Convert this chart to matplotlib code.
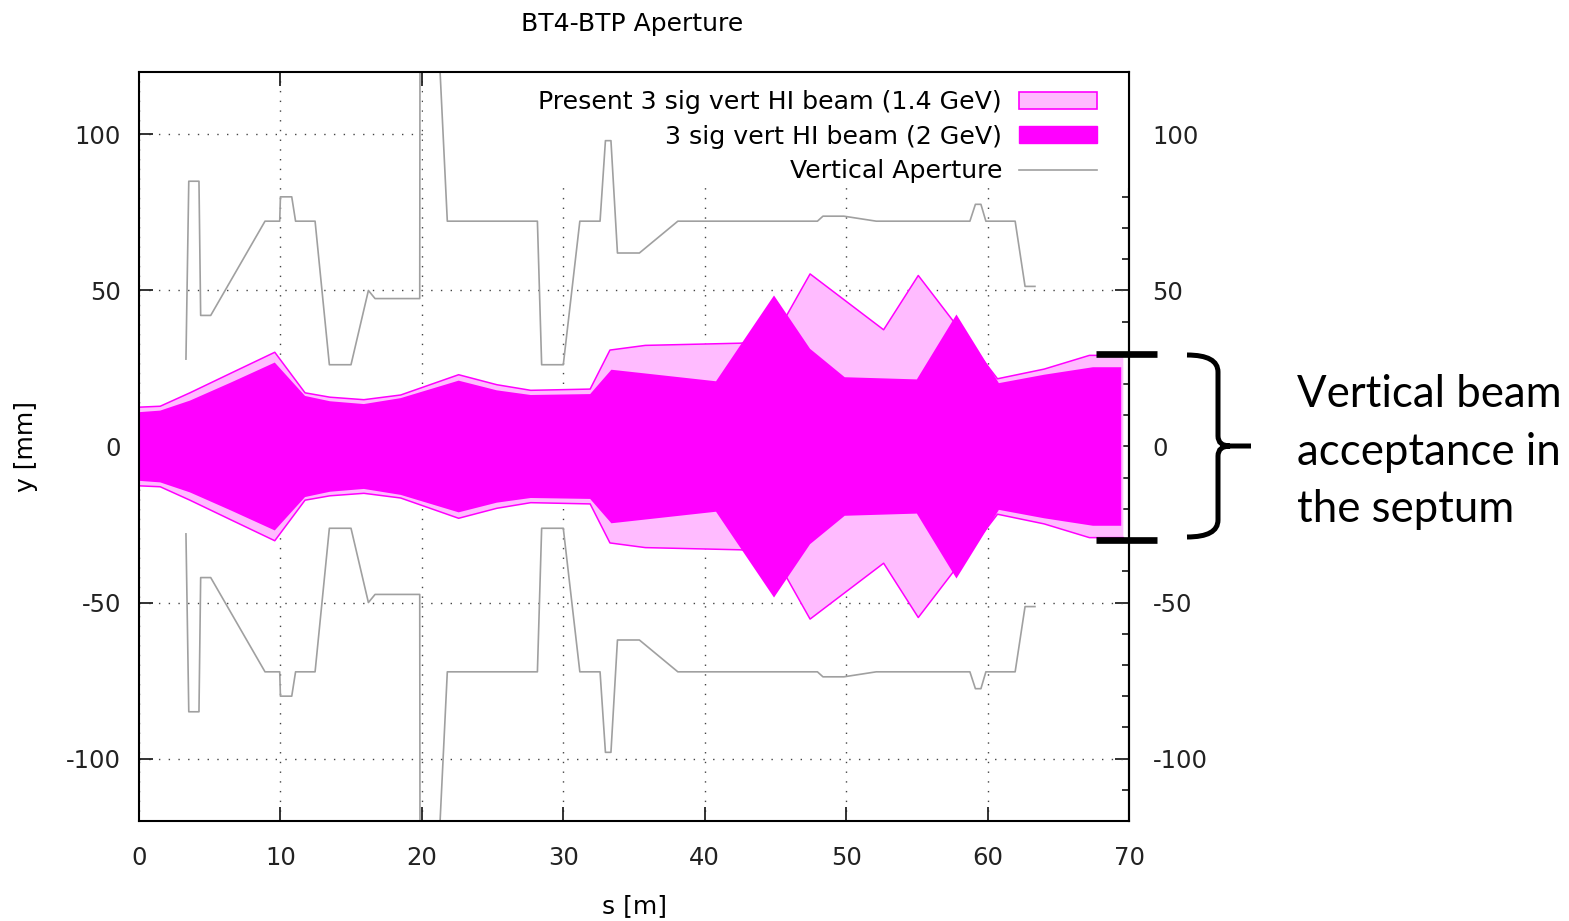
import matplotlib
matplotlib.use("Agg")
import matplotlib.pyplot as plt
from matplotlib.patches import Patch, Rectangle, PathPatch
from matplotlib.lines import Line2D
from matplotlib.path import Path
from matplotlib.transforms import Affine2D
from matplotlib.ticker import MultipleLocator

plt.rcParams['font.family'] = ['DejaVu Sans']
plt.rcParams['axes.unicode_minus'] = False

# ---- data ----
# vertical aperture (upper half; lower half is mirrored)
ap_s = [3.32, 3.52, 4.24, 4.36, 5.07, 8.91, 9.95, 10.0, 10.8, 11.07, 12.45, 13.46,
        14.99, 16.22, 16.69, 19.85, 19.9, 21.8, 28.17, 28.47, 30.0, 31.17, 32.6,
        32.98, 33.37, 33.83, 35.38, 38.1, 47.97, 48.36, 49.84, 52.13, 58.75, 59.14,
        59.53, 59.88, 61.95, 62.65, 63.35]
ap_y = [28, 85, 85, 42, 42, 72.2, 72.2, 80, 80, 72.2, 72.2, 26.2,
        26.2, 50, 47.4, 47.4, 250, 72.2, 72.2, 26.2, 26.2, 72.2, 72.2,
        98, 98, 62, 62, 72.2, 72.2, 73.8, 73.8, 72.2, 72.2, 77.6,
        77.6, 72.2, 72.2, 51.3, 51.3]

# present 3 sigma vertical beam envelope (1.4 GeV), half-size
p14_s = [0, 1.5, 3.6, 6.5, 9.6, 11.74, 13.5, 15.9, 18.5, 22.6, 25.3, 27.7, 31.9,
         33.3, 35.8, 42.5, 44.8, 47.45, 52.65, 55.1, 60.7, 64.0, 67.2, 69.6]
p14_y = [12.6, 12.9, 17.2, 23.5, 30.2, 17.2, 15.8, 15.0, 16.5, 23.0, 19.8, 18.0, 18.4,
         30.9, 32.4, 33.1, 34.0, 55.3, 37.4, 54.8, 21.7, 24.8, 29.2, 29.2]

# 3 sigma vertical beam envelope (2 GeV), half-size
b2_s = [0, 1.5, 3.6, 6.5, 9.6, 11.74, 13.5, 15.9, 18.5, 22.6, 25.3, 27.7, 31.9,
        33.4, 40.8, 44.9, 47.45, 49.9, 55.0, 57.8, 60.8, 64.0, 67.45, 69.45]
b2_y = [11.0, 11.5, 14.7, 20.5, 26.9, 16.2, 14.5, 13.6, 15.5, 21.1, 18.0, 16.5, 16.8,
        24.6, 20.9, 48.4, 31.3, 22.2, 21.5, 42.3, 20.3, 23.0, 25.4, 25.4]

labels = ["Present 3 sig vert HI beam (1.4 GeV)", "3 sig vert HI beam (2 GeV)",
          "Vertical Aperture"]
x_ticks = [0, 10, 20, 30, 40, 50, 60, 70]
y_ticks = [-100, -50, 0, 50, 100]

W, H = 1569, 921
fig = plt.figure(figsize=(W / 100, H / 100), dpi=100)
ax = fig.add_axes([139 / W, 1 - 821 / H, (1129 - 139) / W, (821 - 72) / H])

pink_fill = '#ffbbff'
magenta = '#ff00ff'
gray = '#a0a0a0'

ax.set_xlim(0, 70)
ax.set_ylim(-120, 120)

# grid
ax.set_axisbelow(True)
ax.grid(True, color='#444444', linestyle=(0, (1, 6)), linewidth=1.0)

# mask behind the key
ax.add_patch(Rectangle((20.1, 82.8), 70 - 20.1, 120 - 82.8, facecolor='white',
                       edgecolor='none', zorder=0.8))

neg = lambda v: [-x for x in v]
ax.fill_between(p14_s, neg(p14_y), p14_y, facecolor=pink_fill, edgecolor='none', zorder=1.2)
ax.plot(p14_s, p14_y, color=magenta, lw=1.1, zorder=1.3)
ax.plot(p14_s, neg(p14_y), color=magenta, lw=1.1, zorder=1.3)
ax.fill_between(b2_s, neg(b2_y), b2_y, facecolor=magenta, edgecolor='none', zorder=1.5)

ax.plot(ap_s, ap_y, color=gray, lw=1.2, zorder=2)
ax.plot(ap_s, neg(ap_y), color=gray, lw=1.2, zorder=2)

ax.set_xticks(x_ticks)
ax.set_yticks(y_ticks)
ax.set_yticklabels([str(v) for v in y_ticks])
ax.tick_params(axis='both', which='major', direction='in', length=10, width=1.3,
               labelsize=17.5, colors='#222222', top=True)
ax.tick_params(axis='x', pad=18)
ax.tick_params(axis='y', pad=13)
for sp in ax.spines.values():
    sp.set_linewidth(1.5)

sec = ax.secondary_yaxis('right')
sec.set_yticks(y_ticks)
sec.set_yticklabels([str(v) for v in y_ticks])
sec.yaxis.set_minor_locator(MultipleLocator(10))
sec.tick_params(which='major', direction='in', length=10, width=1.3, labelsize=17.5,
                colors='#222222', pad=17)
sec.tick_params(which='minor', direction='in', length=5, width=1.1)
sec.spines['right'].set_linewidth(1.5)

ax.set_xlabel('s [m]', fontsize=18, labelpad=17)
ax.set_ylabel('y [mm]', fontsize=18, labelpad=20)
fig.text(632 / W, 1 - 24 / H, 'BT4-BTP Aperture', fontsize=18, ha='center', va='center')

handles = [Patch(facecolor=pink_fill, edgecolor=magenta, linewidth=1.2),
           Patch(facecolor=magenta, edgecolor=magenta),
           Line2D([], [], color=gray, lw=1.2)]
leg = ax.legend(handles, labels, loc='upper right',
                bbox_to_anchor=((1097 - 139) / 990, (821 - 90) / 749),
                frameon=False, markerfirst=False, fontsize=18.2,
                handlelength=3.1, handletextpad=0.65, labelspacing=0.42,
                handleheight=0.65, borderpad=0, borderaxespad=0)

# annotation on the right
tr = Affine2D().scale(1 / W, -1 / H).translate(0, 1) + fig.transFigure
for yy in (354, 540):
    fig.add_artist(Line2D([1096, 1157], [yy, yy], transform=tr, color='black',
                          lw=4.8, solid_capstyle='butt'))
verts = [(1187, 355), (1218, 355), (1218, 372),
         (1218, 436), (1218, 446), (1230, 446),
         (1251, 446), (1230, 446),
         (1218, 446), (1218, 456), (1218, 520),
         (1218, 537), (1187, 537)]
codes = [Path.MOVETO, Path.CURVE3, Path.CURVE3,
         Path.LINETO, Path.CURVE3, Path.CURVE3,
         Path.LINETO, Path.MOVETO,
         Path.CURVE3, Path.CURVE3, Path.LINETO,
         Path.CURVE3, Path.CURVE3]
fig.add_artist(PathPatch(Path(verts, codes), transform=tr, facecolor='none',
                         edgecolor='black', lw=3.6, capstyle='butt'))
fig.text(1297 / W, 1 - 452 / H, 'Vertical beam\nacceptance in\nthe septum',
         fontsize=31.5, family=['Lato', 'DejaVu Sans'], ha='left', va='center',
         linespacing=1.5)

fig.savefig('out.png', dpi=100)
